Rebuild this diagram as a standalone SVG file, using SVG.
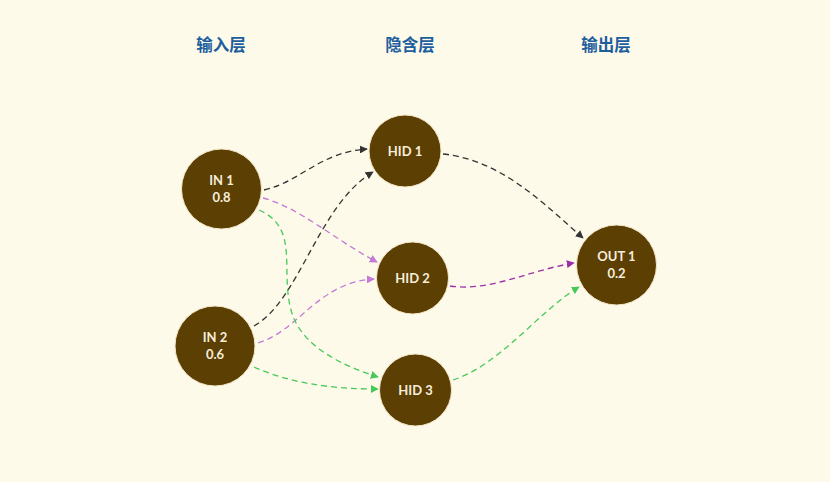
<svg xmlns="http://www.w3.org/2000/svg" width="830" height="482" viewBox="0 0 830 482">
<style>
.title{font-family:"Noto Sans CJK SC","Noto Sans",sans-serif;font-size:16.5px;font-weight:700;fill:#1d5e9e;text-anchor:middle}
.node circle{fill:#5c3f02;stroke:#f3e6c8;stroke-width:1}
.node text{font-family:Lato,"Liberation Sans",sans-serif;font-size:13px;font-weight:700;fill:#f6eedc;text-anchor:middle}
.edge{fill:none;stroke-width:1.3;stroke-dasharray:6 4}
.k{stroke:#333333}
.p{stroke:#c47ad6}
.pd{stroke:#9b2fae}
.g{stroke:#47c95a}
</style>
<defs>
<marker id="ak" viewBox="0 0 10 10" refX="9" refY="5" markerWidth="8" markerHeight="8" markerUnits="userSpaceOnUse" orient="auto"><path d="M0,0 L10,5 L0,10 z" fill="#333333"/></marker>
<marker id="ap" viewBox="0 0 10 10" refX="9" refY="5" markerWidth="8" markerHeight="8" markerUnits="userSpaceOnUse" orient="auto"><path d="M0,0 L10,5 L0,10 z" fill="#c47ad6"/></marker>
<marker id="apd" viewBox="0 0 10 10" refX="9" refY="5" markerWidth="8" markerHeight="8" markerUnits="userSpaceOnUse" orient="auto"><path d="M0,0 L10,5 L0,10 z" fill="#9b2fae"/></marker>
<marker id="ag" viewBox="0 0 10 10" refX="9" refY="5" markerWidth="8" markerHeight="8" markerUnits="userSpaceOnUse" orient="auto"><path d="M0,0 L10,5 L0,10 z" fill="#47c95a"/></marker>
</defs>
<rect width="830" height="482" fill="#fefae9"/>
<g id="titles">
<text class="title" x="221" y="51">输入层</text>
<text class="title" x="410" y="51">隐含层</text>
<text class="title" x="606" y="51">输出层</text>
</g>
<g id="connectors">
<path class="edge k" d="M264 190 C300 182 320 152 367 149" marker-end="url(#ak)"/>
<path class="edge k" d="M254 326 C300 300 318 205 373 172" marker-end="url(#ak)"/>
<path class="edge p" d="M263 198 C300 208 332 238 377 262" marker-end="url(#ap)"/>
<path class="edge p" d="M258 343 C300 330 318 282 374 279" marker-end="url(#ap)"/>
<path class="edge g" d="M259 210 C300 228 280 270 291 310 C300 345 340 365 378 377" marker-end="url(#ag)"/>
<path class="edge g" d="M254 367 C290 383 330 389 378 389" marker-end="url(#ag)"/>
<path class="edge k" d="M443 154 C500 160 540 200 583 238" marker-end="url(#ak)"/>
<path class="edge pd" d="M450 286 C490 292 530 270 574 263" marker-end="url(#apd)"/>
<path class="edge g" d="M453 380 C500 365 540 310 579 287" marker-end="url(#ag)"/>
</g>
<g id="in1" class="node"><circle cx="221.5" cy="189" r="40"/><text x="221.5" y="185">IN 1</text><text x="221.5" y="202">0.8</text></g>
<g id="in2" class="node"><circle cx="215" cy="346" r="40"/><text x="215" y="342">IN 2</text><text x="215" y="359">0.6</text></g>
<g id="hid1" class="node"><circle cx="405" cy="151" r="36"/><text x="405" y="156">HID 1</text></g>
<g id="hid2" class="node"><circle cx="412.5" cy="278" r="36"/><text x="412.5" y="283">HID 2</text></g>
<g id="hid3" class="node"><circle cx="415.5" cy="390" r="36"/><text x="415.5" y="395">HID 3</text></g>
<g id="out1" class="node"><circle cx="616.5" cy="265" r="40"/><text x="616.5" y="261">OUT 1</text><text x="616.5" y="278">0.2</text></g>
</svg>
